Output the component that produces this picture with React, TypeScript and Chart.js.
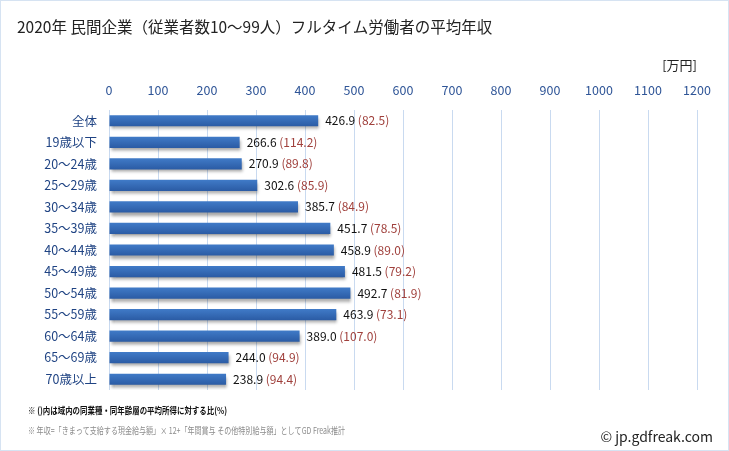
import React, { useEffect, useRef } from "react";
import { Chart, registerables } from "chart.js";

Chart.register(...registerables);

const categories = ["全体", "19歳以下", "20～24歳", "25～29歳", "30～34歳", "35～39歳", "40～44歳", "45～49歳", "50～54歳", "55～59歳", "60～64歳", "65～69歳", "70歳以上"];
const incomes = [426.9, 266.6, 270.9, 302.6, 385.7, 451.7, 458.9, 481.5, 492.7, 463.9, 389.0, 244.0, 238.9];
const ratios = [82.5, 114.2, 89.8, 85.9, 84.9, 78.5, 89.0, 79.2, 81.9, 73.1, 107.0, 94.9, 94.4];
const xTicks = [0, 100, 200, 300, 400, 500, 600, 700, 800, 900, 1000, 1100, 1200];

const titleText = "2020年 民間企業（従業者数10～99人）フルタイム労働者の平均年収";
const unitText = "[万円]";
const note1 = "※ ()内は域内の同業種・同年齢層の平均所得に対する比(%)";
const note2 = "※ 年収=「きまって支給する現金給与額」× 12+「年間賞与 その他特別給与額」としてGD Freak推計";
const credit = "© jp.gdfreak.com";

const FONT = "'Noto Sans CJK JP', 'Noto Sans', sans-serif";

function fitText(c: CanvasRenderingContext2D, text: string, x: number, y: number, width: number) {
  const w = c.measureText(text).width;
  const sx = Math.min(1, width / w);
  c.save();
  c.translate(x, y);
  c.scale(sx, 1);
  c.fillText(text, 0, 0);
  c.restore();
}

export default function App() {
  const ref = useRef<HTMLCanvasElement | null>(null);
  useEffect(() => {
    document.body.style.margin = "0";
    const canvas = ref.current!;
    const shadowPlugin = {
      id: "barShadow",
      beforeDatasetsDraw(chart: any) {
        const c = chart.ctx;
        c.save();
        c.shadowColor = "rgba(0,0,0,0.35)";
        c.shadowOffsetX = 1;
        c.shadowOffsetY = 3;
        c.shadowBlur = 3;
      },
      afterDatasetsDraw(chart: any) {
        chart.ctx.restore();
      },
    };
    const textPlugin = {
      id: "texts",
      afterDraw(chart: any) {
        const c = chart.ctx;
        c.save();
        const meta = chart.getDatasetMeta(0);
        c.font = `12px ${FONT}`;
        c.textBaseline = "middle";
        c.textAlign = "left";
        meta.data.forEach((el: any, i: number) => {
          const a = incomes[i].toFixed(1);
          const b = "(" + ratios[i].toFixed(1) + ")";
          const x = el.x + 7;
          const y = el.y;
          c.fillStyle = "#111111";
          c.fillText(a, x, y);
          const w = c.measureText(a + " ").width;
          c.fillStyle = "#a0403c";
          c.fillText(b, x + w, y);
        });
        c.fillStyle = "#222222";
        c.font = `15.5px ${FONT}`;
        c.textBaseline = "middle";
        c.fillText(titleText, 16, 26);
        c.font = `13px ${FONT}`;
        c.textAlign = "right";
        c.fillText(unitText, 696, 64);
        c.textAlign = "left";
        c.font = `bold 9.5px ${FONT}`;
        c.fillStyle = "#111111";
        fitText(c, note1, 27, 409, 199);
        c.font = `9.5px ${FONT}`;
        c.fillStyle = "#8c8c8c";
        fitText(c, note2, 27, 429, 317);
        c.font = `14px ${FONT}`;
        c.fillStyle = "#222222";
        c.textAlign = "right";
        c.fillText(credit, 712, 436);
        c.restore();
      },
    };
    const chart = new Chart(canvas, {
      type: "bar",
      data: {
        labels: categories,
        datasets: [
          {
            data: incomes,
            backgroundColor: (ctx: any) => {
              const ch = ctx.chart;
              const ys = ch.scales && ch.scales.y;
              if (!ys || ctx.dataIndex === undefined) return "#3468b5";
              const cy = ys.getPixelForValue(ctx.dataIndex);
              if (!isFinite(cy)) return "#3468b5";
              const g = ch.ctx.createLinearGradient(0, cy - 6, 0, cy + 6);
              g.addColorStop(0, "#417cc9");
              g.addColorStop(1, "#2a5aa3");
              return g;
            },
            borderWidth: 0,
            barPercentage: 0.52,
            categoryPercentage: 1,
          },
        ],
      },
      options: {
        indexAxis: "y",
        animation: false,
        responsive: false,
        maintainAspectRatio: false,
        layout: { padding: { left: 0, right: 31, top: 0, bottom: 60 } },
        plugins: { legend: { display: false }, tooltip: { enabled: false }, title: { display: false } },
        scales: {
          x: {
            position: "top",
            min: 0,
            max: 1200,
            afterBuildTicks: (s: any) => {
              s.ticks = xTicks.map((v) => ({ value: v }));
            },
            afterFit: (s: any) => {
              s.height = 109;
            },
            grid: { color: "#c9daf0", drawTicks: false, lineWidth: 1 },
            border: { display: false },
            ticks: {
              color: "#2f5597",
              font: { family: FONT, size: 12.5 },
              padding: 12,
              callback: (v: any) => String(v),
            },
          },
          y: {
            afterFit: (s: any) => {
              s.width = 108;
            },
            grid: { display: false, drawTicks: false },
            border: { display: false },
            ticks: { color: "#1f4383", font: { family: FONT, size: 12.5 }, padding: 12 },
          },
        },
      },
      plugins: [shadowPlugin, textPlugin],
    } as any);
    return () => chart.destroy();
  }, []);
  return (
    <div style={{ width: 729, height: 451, boxSizing: "border-box", border: "1px solid #d6e3f2", background: "#fff" }}>
      <canvas ref={ref} width={727} height={449} style={{ display: "block" }} />
    </div>
  );
}
